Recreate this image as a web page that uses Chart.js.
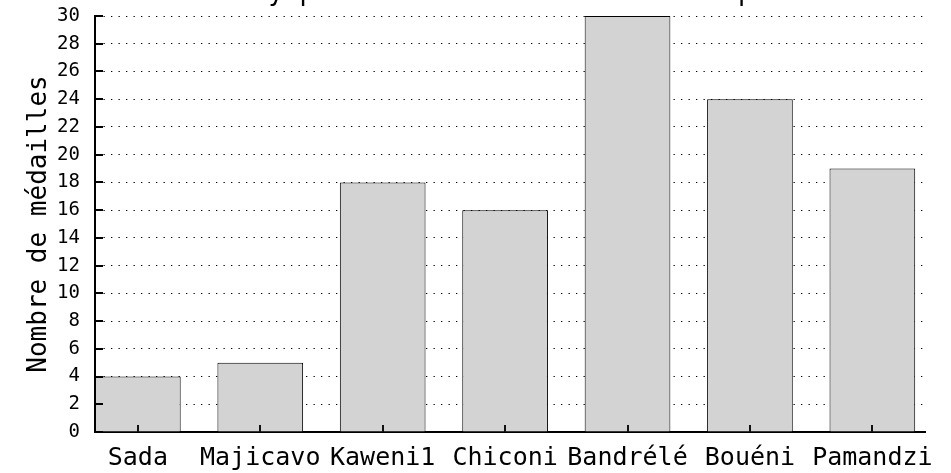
<!DOCTYPE html>
<html><head><meta charset="utf-8">
<script src="https://cdn.jsdelivr.net/npm/chart.js@4"></script>
<style>html,body{margin:0;padding:0;background:#fff}#wrap{width:951px;height:473px}</style>
</head><body><div id="wrap"><canvas id="c" width="951" height="473"></canvas></div>
<script>
const titleText = "Olympiades : médailles obtenues par commune";
const categories = ["Sada", "Majicavo", "Kaweni1", "Chiconi", "Bandrélé", "Bouéni", "Pamandzi"];
const medals = [4, 5, 18, 16, 30, 24, 19];
const yTickValues = [0, 2, 4, 6, 8, 10, 12, 14, 16, 18, 20, 22, 24, 26, 28, 30];
const yAxisTitle = "Nombre de médailles";

const FONT = '"DejaVu Sans Mono", monospace';
Chart.defaults.font.family = FONT;
Chart.defaults.color = '#000';

const inwardTicks = {
  id: 'inwardTicks',
  afterDraw(chart) {
    const ctx = chart.ctx, ca = chart.chartArea;
    const xs = chart.scales.x, ys = chart.scales.y;
    ctx.save();
    ctx.lineWidth = 2;
    ctx.strokeStyle = '#000';
    ys.ticks.forEach(t => {
      const y = Math.round(ys.getPixelForValue(t.value));
      ctx.beginPath(); ctx.moveTo(ca.left - 1, y); ctx.lineTo(ca.left + 8, y); ctx.stroke();
    });
    ctx.strokeStyle = '#111';
    xs.ticks.forEach(t => {
      const x = Math.round(xs.getPixelForValue(t.value));
      ctx.beginPath(); ctx.moveTo(x, ca.bottom); ctx.lineTo(x, ca.bottom - 7); ctx.stroke();
    });
    // clipped title above the chart
    ctx.fillStyle = '#000';
    ctx.font = '26px ' + FONT;
    ctx.textAlign = 'left';
    ctx.textBaseline = 'alphabetic';
    ctx.fillText(titleText, 237, 0);
    ctx.restore();
  }
};

new Chart(document.getElementById('c'), {
  type: 'bar',
  data: {
    datasets: [{
      data: medals.map((v, i) => ({x: i, y: v})),
      backgroundColor: '#d3d3d3',
      borderColor: '#000',
      borderWidth: 1,
      barPercentage: 0.7,
      categoryPercentage: 1.0
    }]
  },
  options: {
    responsive: false,
    animation: false,
    devicePixelRatio: 1,
    layout: {padding: {top: 16, right: 26, left: 0, bottom: 0}},
    plugins: {legend: {display: false}, tooltip: {enabled: false}, title: {display: false}},
    scales: {
      x: {
        type: 'linear',
        offset: false,
        min: -0.35,
        max: 6.43,
        afterBuildTicks: s => { s.ticks = categories.map((_, i) => ({value: i})); },
        afterFit: s => { s.height = 41; s.paddingLeft = 0; s.paddingRight = 0; s.paddingTop = 0; s.paddingBottom = 0; },
        ticks: {
          autoSkip: false, maxRotation: 0, padding: 11,
          font: {size: 25},
          callback: v => categories[v]
        },
        grid: {display: false, drawTicks: false, offset: false},
        border: {display: true, color: '#000', width: 2}
      },
      y: {
        min: 0, max: 30,
        z: 1,
        afterBuildTicks: s => { s.ticks = yTickValues.map(v => ({value: v})); },
        afterFit: s => { s.width = 95; s.paddingTop = 0; s.paddingBottom = 0; s.paddingLeft = 0; s.paddingRight = 0; },
        ticks: {padding: 15, font: {size: 19}},
        grid: {
          drawTicks: false,
          color: c => (c.tick && c.tick.value === 0) ? 'rgba(0,0,0,0)' : '#000',
          lineWidth: 1
        },
        border: {display: true, color: '#000', width: 2, dash: [1.3, 6.2]},
        title: {display: true, text: yAxisTitle, font: {size: 26}, padding: {top: 24, bottom: 4}}
      }
    }
  },
  plugins: [inwardTicks]
});
</script></body></html>
